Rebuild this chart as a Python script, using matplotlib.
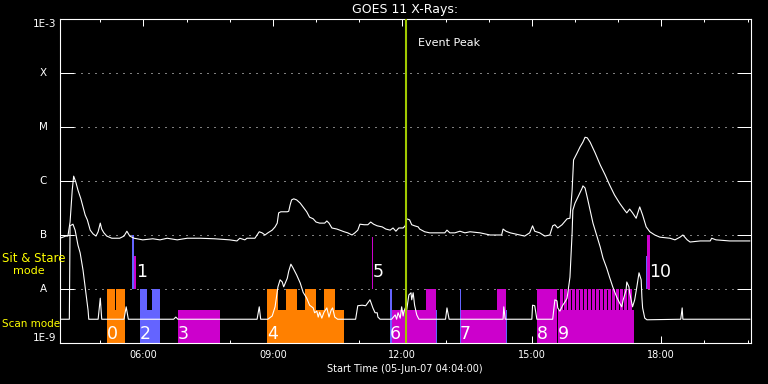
import numpy as np
import matplotlib.pyplot as plt
from matplotlib.ticker import MultipleLocator, NullLocator, FuncFormatter

# GOES 11 1-minute X-ray flux on 05-Jun-07
# time in minutes after 00:00 UT, flux as log10(W/m^2)
long_min = [244, 248, 252, 255, 258, 261, 263, 266, 269, 273,
            276, 279, 282, 286, 290, 294, 297, 300, 302, 305,
            309, 316, 327, 333, 337, 341, 347, 359, 373, 383,
            393, 407, 421, 439, 459, 480, 490, 494, 501, 504,
            515, 518, 521, 525, 529, 533, 539, 543, 546, 548,
            551, 555, 560, 562, 564, 566, 569, 573, 578, 582,
            587, 591, 596, 600, 605, 612, 615, 618, 622, 629,
            633, 639, 644, 650, 654, 658, 661, 667, 672, 676,
            680, 685, 692, 697, 703, 707, 711, 715, 721, 724,
            726, 730, 733, 737, 742, 744, 751, 758, 772, 779,
            782, 786, 793, 800, 807, 814, 828, 842, 858, 860,
            864, 870, 883, 890, 897, 901, 904, 911, 918, 925,
            929, 932, 936, 942, 949, 953, 956, 958, 963, 967,
            971, 974, 977, 981, 988, 995, 1002, 1008, 1015, 1022,
            1029, 1032, 1036, 1040, 1045, 1050, 1054, 1059, 1064, 1071,
            1078, 1092, 1099, 1106, 1110, 1116, 1120, 1134, 1148, 1150,
            1156, 1175, 1203]
long_log = [-7.06, -7.04, -7.02, -7.02, -6.76, -6.17, -5.91, -6.02, -6.17, -6.33,
            -6.48, -6.63, -6.72, -6.91, -6.98, -7.02, -6.94, -6.78, -6.89, -6.96,
            -7.02, -7.06, -7.06, -7.02, -6.93, -7.02, -7.06, -7.09, -7.07, -7.09,
            -7.06, -7.09, -7.06, -7.06, -7.07, -7.09, -7.11, -7.06, -7.09, -7.06,
            -7.06, -7.00, -6.94, -6.96, -7.00, -6.96, -6.91, -6.85, -6.78, -6.59,
            -6.57, -6.57, -6.57, -6.56, -6.44, -6.35, -6.33, -6.35, -6.41, -6.48,
            -6.57, -6.67, -6.70, -6.76, -6.78, -6.78, -6.74, -6.78, -6.87, -6.89,
            -6.91, -6.94, -6.96, -7.00, -6.96, -6.91, -6.80, -6.81, -6.81, -6.76,
            -6.80, -6.83, -6.85, -6.89, -6.91, -6.87, -6.93, -6.87, -6.87, -6.83,
            -6.70, -6.72, -6.81, -6.83, -6.85, -6.89, -6.94, -6.96, -6.96, -6.96,
            -6.91, -6.96, -6.96, -6.93, -6.96, -6.94, -6.96, -7.00, -7.00, -6.89,
            -6.93, -6.96, -7.00, -7.02, -6.96, -6.83, -6.93, -6.96, -7.02, -7.00,
            -6.83, -6.81, -6.87, -6.81, -6.70, -6.69, -6.17, -5.61, -5.48, -5.37,
            -5.28, -5.19, -5.20, -5.28, -5.48, -5.70, -5.89, -6.07, -6.26, -6.41,
            -6.54, -6.59, -6.52, -6.59, -6.69, -6.48, -6.63, -6.85, -6.94, -7.00,
            -7.04, -7.06, -7.09, -7.04, -7.00, -7.09, -7.13, -7.11, -7.11, -7.06,
            -7.09, -7.11, -7.11]

short_min = [244, 257, 258, 262, 265, 269, 272, 276, 280, 283,
             284, 297, 300, 302, 333, 336, 339, 402, 405, 408,
             518, 521, 523, 533, 539, 543, 547, 550, 553, 555,
             560, 562, 565, 568, 573, 578, 582, 587, 591, 596,
             598, 601, 603, 605, 608, 611, 612, 615, 618, 621,
             623, 626, 630, 655, 658, 664, 669, 675, 679, 682,
             685, 686, 689, 705, 710, 712, 714, 717, 719, 721,
             722, 724, 726, 729, 732, 733, 735, 737, 740, 743,
             780, 782, 785, 860, 861, 863, 900, 901, 904, 907,
             929, 932, 935, 936, 939, 943, 946, 949, 950, 953,
             956, 957, 960, 964, 970, 971, 974, 977, 981, 985,
             990, 995, 999, 1004, 1008, 1013, 1018, 1022, 1025, 1027,
             1031, 1032, 1035, 1036, 1039, 1040, 1043, 1046, 1049, 1052,
             1053, 1054, 1057, 1060, 1107, 1109, 1110, 1203]
short_log = [-8.56, -8.56, -6.83, -6.80, -6.91, -7.19, -7.33, -7.65, -8.07, -8.39,
             -8.56, -8.56, -8.17, -8.56, -8.56, -8.33, -8.56, -8.56, -8.52, -8.56,
             -8.56, -8.33, -8.56, -8.56, -8.50, -8.33, -7.96, -7.83, -7.87, -7.96,
             -7.80, -7.67, -7.54, -7.61, -7.74, -7.89, -8.06, -8.17, -8.30, -8.35,
             -8.44, -8.41, -8.52, -8.43, -8.54, -8.43, -8.41, -8.35, -8.52, -8.39,
             -8.35, -8.52, -8.56, -8.56, -8.31, -8.30, -8.31, -8.20, -8.35, -8.44,
             -8.44, -8.52, -8.56, -8.56, -8.48, -8.56, -8.44, -8.54, -8.33, -8.50,
             -8.43, -8.35, -8.39, -8.11, -8.07, -8.20, -8.07, -8.30, -8.48, -8.56,
             -8.56, -8.35, -8.56, -8.56, -8.33, -8.56, -8.56, -8.30, -8.31, -8.56,
             -8.56, -8.20, -8.22, -8.35, -8.41, -8.30, -8.24, -8.17, -8.07, -7.78,
             -6.96, -6.54, -6.41, -6.30, -6.13, -6.09, -6.13, -6.30, -6.54, -6.78,
             -7.00, -7.22, -7.43, -7.61, -7.78, -7.98, -8.15, -8.26, -8.33, -8.20,
             -8.02, -7.87, -7.96, -8.07, -8.26, -8.33, -8.20, -7.96, -7.70, -7.83,
             -8.15, -8.35, -8.54, -8.57, -8.56, -8.35, -8.56, -8.56]

t_start = 244     # 04:04
t_end = 1204      # 20:04
peak_min = 725.6  # event peak

ORANGE = '#FF8000'
BLUE = '#6464FF'
MAGENTA = '#CC00CC'

# scan mode observations: start/end minute, top of bar (log10)
scan_start = [309, 320, 321.5, 355, 365, 372, 408,
              531.5, 547, 558, 573.5, 585, 600, 611, 626.5,
              702.5, 705, 752.5, 766.5, 800, 801.5, 851.5, 864,
              907, 936]
scan_end = [320, 321.5, 334.5, 365, 372, 383, 466.5,
            547, 558, 573.5, 585, 600, 611, 626.5, 639,
            705, 752.5, 766.5, 768, 801.5, 851.5, 864, 865.5,
            935, 1042]
scan_top = [-8.0, -8.39, -8.0, -8.0, -8.39, -8.0, -8.39,
            -8.0, -8.39, -8.0, -8.39, -8.0, -8.39, -8.0, -8.39,
            -8.0, -8.39, -8.0, -8.39, -8.0, -8.39, -8.0, -8.39,
            -8.0, -8.39]
scan_color = [ORANGE, ORANGE, ORANGE, BLUE, BLUE, BLUE, MAGENTA,
              ORANGE, ORANGE, ORANGE, ORANGE, ORANGE, ORANGE, ORANGE, ORANGE,
              BLUE, MAGENTA, MAGENTA, BLUE, BLUE, MAGENTA, MAGENTA, BLUE,
              MAGENTA, MAGENTA]

# short rasters inside observation 9 (reach the upper level)
burst_start = [939, 944.6, 950.1, 955.7, 961.2, 966.8, 972.4, 977.9, 983.5,
               989, 994.6, 1000.2, 1005.7, 1011.3, 1016.8, 1022.4, 1028, 1033.5]
burst_end = [943.2, 948.7, 954.3, 959.9, 965.4, 971, 976.5, 982.1, 987.7,
             993.2, 998.8, 1004.3, 1009.9, 1015.5, 1021, 1026.6, 1032.1, 1039.1]

# sit & stare observations
stare_start = [344, 347.3, 677.7, 1058.5, 1060]
stare_end = [347.3, 349.8, 679.8, 1060, 1063.7]
stare_top = [-7.0, -7.39, -7.03, -7.39, -7.0]
stare_color = [BLUE, MAGENTA, MAGENTA, BLUE, MAGENTA]

scan_labels = ['0', '2', '3', '4', '6', '7', '8', '9']
scan_label_min = [309, 355, 408, 531.5, 702.5, 800, 907, 936]
stare_labels = ['1', '5', '10']
stare_label_min = [349.5, 679, 1063.5]

level_names = ['1E-9', 'A', 'B', 'C', 'M', 'X', '1E-3']
level_flux = [1e-9, 1e-8, 1e-7, 1e-6, 1e-5, 1e-4, 1e-3]

fig = plt.figure(figsize=(7.68, 3.84), dpi=100, facecolor='black')
ax = fig.add_axes([60 / 768, 41 / 384, 690.5 / 768, 324 / 384])
ax.set_facecolor('black')
ax.set_yscale('log')
ax.set_ylim(1e-9, 1e-3)
ax.set_xlim(t_start / 60, t_end / 60)
ax.set_axisbelow(True)

for s, e, top, c in zip(scan_start, scan_end, scan_top, scan_color):
    ax.bar(s / 60, 10 ** top - 1e-9, width=(e - s) / 60, bottom=1e-9,
           align='edge', color=c, linewidth=0, zorder=1)
for s, e in zip(burst_start, burst_end):
    ax.bar(s / 60, 1e-8 - 1e-9, width=(e - s) / 60, bottom=1e-9,
           align='edge', color=MAGENTA, linewidth=0, zorder=1)
for s, e, top, c in zip(stare_start, stare_end, stare_top, stare_color):
    ax.bar(s / 60, 10 ** top - 1e-8, width=(e - s) / 60, bottom=1e-8,
           align='edge', color=c, linewidth=0, zorder=1)

ax.plot(np.array(long_min) / 60, 10 ** np.array(long_log), color='white', lw=0.8, zorder=2)
ax.plot(np.array(short_min) / 60, 10 ** np.array(short_log), color='white', lw=0.8, zorder=2)

for lab, m in zip(scan_labels, scan_label_min):
    ax.text(m / 60, 10 ** -8.83, lab, color='white', fontsize=12.5,
            ha='left', va='center', zorder=4)
for lab, m in zip(stare_labels, stare_label_min):
    ax.text(m / 60, 10 ** -7.69, lab, color='white', fontsize=12.5,
            ha='left', va='center', zorder=4)

ax.axvline(peak_min / 60, color='#A0C800', lw=1.5, zorder=3)
ax.annotate('Event Peak', xy=(peak_min / 60, 1e-3), xytext=(8, -17),
            textcoords='offset points', color='white', fontsize=8,
            ha='left', va='center')

# axes, ticks and grid
for sp in ax.spines.values():
    sp.set_color('white')
    sp.set_linewidth(0.8)

ax.xaxis.set_major_locator(MultipleLocator(3))
ax.xaxis.set_minor_locator(MultipleLocator(1))
ax.xaxis.set_major_formatter(FuncFormatter(lambda v, p: f'{int(round(v)):02d}:00'))
ax.tick_params(axis='x', which='major', direction='in', length=4.7, width=0.72,
               color='white', top=True, labelsize=7, labelcolor='white', pad=5)
ax.tick_params(axis='x', which='minor', direction='in', length=2.4, width=0.72,
               color='white', top=True)

ax.set_yticks(level_flux)
ax.yaxis.set_minor_locator(NullLocator())
ax.tick_params(axis='y', which='major', direction='in', length=10, width=0.72,
               color='white', right=True, labelleft=False)
ax.grid(True, axis='y', which='major', color='white', lw=0.72, linestyle=(0, (1, 6)))

ytrans = ax.get_yaxis_transform()
for name, f in zip(level_names, level_flux):
    if name == '1E-3':
        ax.text(-0.005, f, name, transform=ytrans, color='white', fontsize=7.5,
                ha='right', va='top')
    elif name == '1E-9':
        ax.text(-0.005, f, name, transform=ytrans, color='white', fontsize=7.5,
                ha='right', va='bottom')
    else:
        ax.text(-0.024, f, name, transform=ytrans, color='white', fontsize=7.5,
                ha='center', va='center')

ax.set_title('GOES 11 X-Rays:', color='white', fontsize=9, pad=4)
ax.set_xlabel('Start Time (05-Jun-07 04:04:00)', color='white', fontsize=7, labelpad=3)

fig.text(2 / 768, 1 - 259 / 384, 'Sit & Stare', color='yellow', fontsize=8.5,
         ha='left', va='center')
fig.text(12.7 / 768, 1 - 271 / 384, 'mode', color='yellow', fontsize=8,
         ha='left', va='center')
fig.text(2 / 768, 1 - 324 / 384, 'Scan mode', color='yellow', fontsize=7.5,
         ha='left', va='center')

fig.savefig('out.png', dpi=100, facecolor='black')
